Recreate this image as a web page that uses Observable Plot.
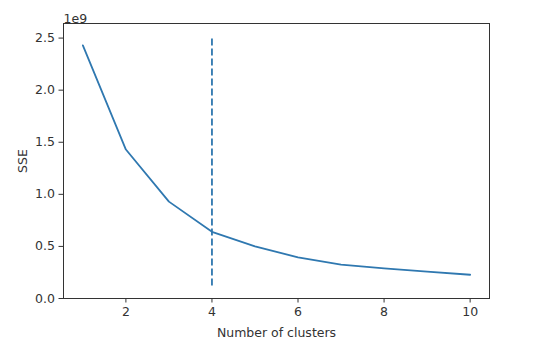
<!DOCTYPE html>
<html>
<head>
<meta charset="utf-8">
<script src="https://cdn.jsdelivr.net/npm/d3@7"></script>
<script src="https://cdn.jsdelivr.net/npm/@observablehq/plot@0.6"></script>
<style>
  html, body { margin: 0; padding: 0; background: #fff; }
</style>
</head>
<body>
<div id="chart"></div>
<script>
const clusters = [1, 2, 3, 4, 5, 6, 7, 8, 9, 10];
const sse = [2.43e9, 1.43e9, 0.93e9, 0.64e9, 0.50e9, 0.395e9, 0.325e9, 0.29e9, 0.258e9, 0.228e9];
const knee = [4];
const kneeLow = 0.12e9;
const kneeHigh = 2.52e9;
const xTicks = [2, 4, 6, 8, 10];
const yTicks = [0, 0.5e9, 1.0e9, 1.5e9, 2.0e9, 2.5e9];

const data = clusters.map((k, i) => ({k, sse: sse[i]}));
const color = "#2f78b0";
const font = "DejaVu Sans, sans-serif";
const fs = 12.5;

const chart = Plot.plot({
  width: 540,
  height: 358,
  marginLeft: 63,
  marginRight: 51,
  marginTop: 23,
  marginBottom: 60,
  style: {fontFamily: font, fontSize: fs + "px", color: "#333", background: "#fff"},
  x: {domain: [0.55, 10.45], ticks: xTicks, tickFormat: d => String(d)},
  y: {domain: [0, 2.64e9], ticks: yTicks, tickFormat: d => (d / 1e9).toFixed(1)},
  marks: [
    Plot.frame({stroke: "#333", strokeWidth: 1}),
    Plot.axisX({ticks: xTicks, tickSize: 4.5, tickPadding: 4, fontSize: fs, stroke: "#333",
      label: "Number of clusters", labelAnchor: "center", labelArrow: "none", labelOffset: 38}),
    Plot.axisY({ticks: yTicks, tickSize: 4.5, tickPadding: 4, fontSize: fs, stroke: "#333",
      tickFormat: d => (d / 1e9).toFixed(1),
      label: "SSE", labelAnchor: "center", labelArrow: "none", labelOffset: 45}),
    Plot.line(data, {x: "k", y: "sse", stroke: color, strokeWidth: 1.8}),
    Plot.ruleX(knee, {x: d => d, y1: kneeLow, y2: kneeHigh, stroke: color, strokeWidth: 1.8, strokeDasharray: "7,3"}),
    Plot.text(["1e9"], {frameAnchor: "top-left", text: d => d, dy: -9, textAnchor: "start", fontSize: fs, fill: "#333"})
  ]
});
document.getElementById("chart").appendChild(chart);
</script>
</body>
</html>
